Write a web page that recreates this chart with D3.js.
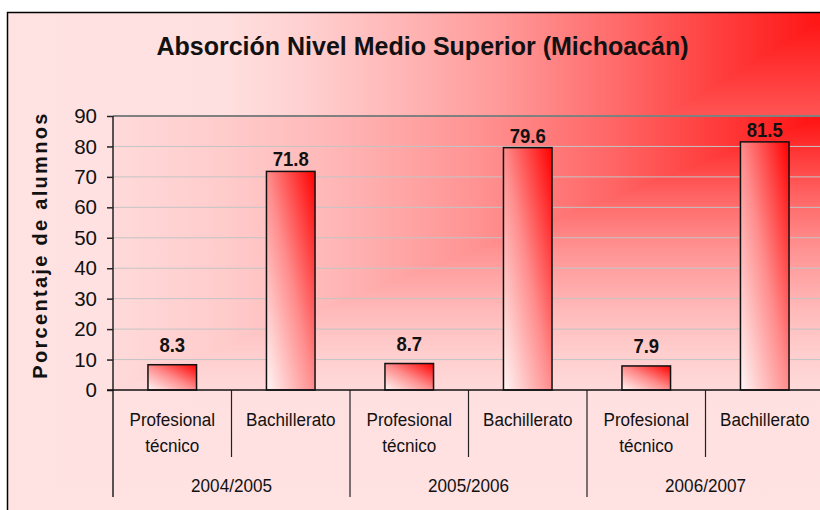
<!DOCTYPE html>
<html>
<head>
<meta charset="utf-8">
<script src="https://cdn.jsdelivr.net/npm/d3@7"></script>
<style>
  body { margin: 0; background: #fff; }
  svg text { font-family: "Liberation Sans", Arial, sans-serif; fill: #111; }
</style>
</head>
<body>
<div id="chart"></div>
<script>
// data
const years = ["2004/2005", "2005/2006", "2006/2007"];
const types = ["Profesional técnico", "Bachillerato"];
const profesional = [8.3, 8.7, 7.9];
const bachillerato = [71.8, 79.6, 81.5];
const yTicks = [0, 10, 20, 30, 40, 50, 60, 70, 80, 90];

const svgWidth = 820, svgHeight = 510;
const margin = { top: 116, right: -4, bottom: 120, left: 113 };
const width = svgWidth - margin.left - margin.right;
const height = svgHeight - margin.top - margin.bottom;

// flat list of bars: year x type
const bars = [];
years.forEach((yr, i) => {
    bars.push({ year: yr, type: types[0], key: yr + "|" + types[0], v: profesional[i] });
    bars.push({ year: yr, type: types[1], key: yr + "|" + types[1], v: bachillerato[i] });
});

const svg = d3.select("#chart").append("svg")
    .attr("width", svgWidth)
    .attr("height", svgHeight);

const defs = svg.append("defs");

// "from corner" fill: red at the top right corner, fading towards the
// left and bottom edges (isolines are rectangles)
function cornerFill(parent, id, x0, y0, x1, y1, stops) {
    const h = defs.append("linearGradient").attr("id", id + "H")
        .attr("gradientUnits", "userSpaceOnUse")
        .attr("x1", x1).attr("y1", 0).attr("x2", x0).attr("y2", 0);
    const v = defs.append("linearGradient").attr("id", id + "V")
        .attr("gradientUnits", "userSpaceOnUse")
        .attr("x1", 0).attr("y1", y0).attr("x2", 0).attr("y2", y1);
    stops.forEach(s => {
        h.append("stop").attr("offset", s[0]).attr("stop-color", s[1]);
        v.append("stop").attr("offset", s[0]).attr("stop-color", s[1]);
    });
    parent.append("rect")
        .attr("x", x0).attr("y", y0)
        .attr("width", x1 - x0).attr("height", y1 - y0)
        .attr("fill", `url(#${id}V)`);
    parent.append("path")
        .attr("d", `M${x0},${y0}L${x1},${y0}L${x0},${y1}Z`)
        .attr("fill", `url(#${id}H)`);
}

const chartStops = [[0, "#ff0f0f"], [0.16, "#ff4545"], [0.28, "#ff7070"], [0.4, "#ff9898"],
                    [0.52, "#ffb5b5"], [0.64, "#ffd0d0"], [0.74, "#ffe0e0"], [1, "#ffe2e2"]];
const plotStops = [[0, "#ff1010"], [0.3, "#ff6666"], [0.5, "#ff9595"], [0.7, "#ffb8b8"],
                   [0.85, "#ffcccc"], [1, "#ffdada"]];

// chart area
cornerFill(svg, "chartBg", 7, 12, 835, 520, chartStops);

// bar fill: white bottom-left to red top-right
const bf = defs.append("linearGradient")
    .attr("id", "barGrad")
    .attr("x1", 0).attr("y1", 1).attr("x2", 1).attr("y2", 0);
bf.append("stop").attr("offset", "0").attr("stop-color", "#fff6f6");
bf.append("stop").attr("offset", "0.5").attr("stop-color", "#ff8c8c");
bf.append("stop").attr("offset", "1").attr("stop-color", "#ff0000");

// chart frame
svg.append("rect")
    .attr("x", 7.5).attr("y", 12.5)
    .attr("width", 840).attr("height", 520)
    .attr("fill", "none")
    .attr("stroke", "#000")
    .attr("stroke-width", 1.5);

const chartGroup = svg.append("g")
    .attr("transform", `translate(${margin.left}, ${margin.top})`);

// plot area
cornerFill(chartGroup, "plotBg", 0, 0, width, height, plotStops);

// scales
const xScale = d3.scaleBand()
    .domain(bars.map(d => d.key))
    .range([0, width])
    .paddingInner(0.59)
    .paddingOuter(0.295);

const yearScale = d3.scaleBand()
    .domain(years)
    .range([0, width]);

const yScale = d3.scaleLinear()
    .domain([0, 90])
    .range([height, 0]);

// gridlines
chartGroup.append("g")
    .selectAll("line")
    .data(yTicks.filter(t => t > 0 && t < 90))
    .enter()
    .append("line")
    .attr("x1", 0).attr("x2", width)
    .attr("y1", d => yScale(d)).attr("y2", d => yScale(d))
    .attr("stroke", "#c4c4c4")
    .attr("stroke-width", 1);

// plot area top border
chartGroup.append("line")
    .attr("x1", 0).attr("x2", width)
    .attr("y1", yScale(90)).attr("y2", yScale(90))
    .attr("stroke", "#808080")
    .attr("stroke-width", 2);

// y axis
const leftAxis = d3.axisLeft(yScale).tickValues(yTicks).tickSize(6).tickPadding(10);
const yAxisG = chartGroup.append("g").call(leftAxis);
yAxisG.attr("font-family", null).attr("font-size", null);
yAxisG.select(".domain").remove();
yAxisG.selectAll(".tick line").attr("stroke", "#222").attr("stroke-width", 1.5);
yAxisG.selectAll(".tick text")
    .style("font-size", "20.5px")
    .attr("fill", "#111");

// bars
chartGroup.selectAll(".bar")
    .data(bars)
    .enter()
    .append("rect")
    .attr("class", "bar")
    .attr("x", d => xScale(d.key))
    .attr("y", d => yScale(d.v))
    .attr("width", xScale.bandwidth())
    .attr("height", d => yScale(0) - yScale(d.v))
    .attr("fill", "url(#barGrad)")
    .attr("stroke", "#111")
    .attr("stroke-width", 1.5);

// value labels
chartGroup.selectAll(".valueLabel")
    .data(bars)
    .enter()
    .append("text")
    .attr("class", "valueLabel")
    .attr("transform", d => `translate(${xScale(d.key) + xScale.bandwidth() / 2}, ${yScale(d.v) - (d.v > 50 ? 5 : 13)}) scale(0.95,1)`)
    .attr("text-anchor", "middle")
    .style("font-size", "19.5px")
    .style("font-weight", "bold")
    .text(d => d.v.toFixed(1));

// y axis line (runs down through the category rows)
chartGroup.append("line")
    .attr("x1", 0).attr("x2", 0)
    .attr("y1", 0).attr("y2", height + 107)
    .attr("stroke", "#222")
    .attr("stroke-width", 1.5);

// x axis line
chartGroup.append("line")
    .attr("x1", -6).attr("x2", width)
    .attr("y1", height).attr("y2", height)
    .attr("stroke", "#111")
    .attr("stroke-width", 1.5);

// category separators
const step = xScale.step();
chartGroup.selectAll(".catSep")
    .data(bars.filter(d => d.type === types[0]))
    .enter()
    .append("line")
    .attr("x1", d => xScale(d.key) - xScale.paddingOuter() * step + step)
    .attr("x2", d => xScale(d.key) - xScale.paddingOuter() * step + step)
    .attr("y1", height).attr("y2", height + 67)
    .attr("stroke", "#222")
    .attr("stroke-width", 1.2);

// year separators
chartGroup.selectAll(".yearSep")
    .data(years.slice(1))
    .enter()
    .append("line")
    .attr("x1", d => yearScale(d))
    .attr("x2", d => yearScale(d))
    .attr("y1", height).attr("y2", height + 107)
    .attr("stroke", "#222")
    .attr("stroke-width", 1.2);

// category labels
const catLabels = chartGroup.selectAll(".catLabel")
    .data(bars)
    .enter()
    .append("text")
    .attr("class", "catLabel")
    .attr("transform", d => `translate(${xScale(d.key) + xScale.bandwidth() / 2}, ${height + 36}) scale(0.9,1)`)
    .attr("text-anchor", "middle")
    .style("font-size", "19px");

catLabels.each(function(d) {
    const words = d.type === types[0] ? ["Profesional", "técnico"] : [d.type];
    const t = d3.select(this);
    words.forEach((w, i) => {
        t.append("tspan")
            .attr("x", 0)
            .attr("dy", i === 0 ? 0 : 26)
            .text(w);
    });
});

// year labels
chartGroup.selectAll(".yearLabel")
    .data(years)
    .enter()
    .append("text")
    .attr("class", "yearLabel")
    .attr("transform", d => `translate(${yearScale(d) + yearScale.bandwidth() / 2}, ${height + 102}) scale(0.9,1)`)
    .attr("text-anchor", "middle")
    .style("font-size", "19px")
    .text(d => d);

// y axis title
svg.append("text")
    .attr("transform", `translate(47, ${margin.top + height / 2 - 8}) rotate(-90)`)
    .attr("text-anchor", "middle")
    .style("font-size", "20px")
    .style("font-weight", "bold")
    .style("letter-spacing", "2.3px")
    .text("Porcentaje de alumnos");

// chart title
svg.append("text")
    .attr("x", 422.5)
    .attr("y", 55)
    .attr("text-anchor", "middle")
    .style("font-size", "25px")
    .style("font-weight", "bold")
    .text("Absorción Nivel Medio Superior (Michoacán)");
</script>
</body>
</html>
